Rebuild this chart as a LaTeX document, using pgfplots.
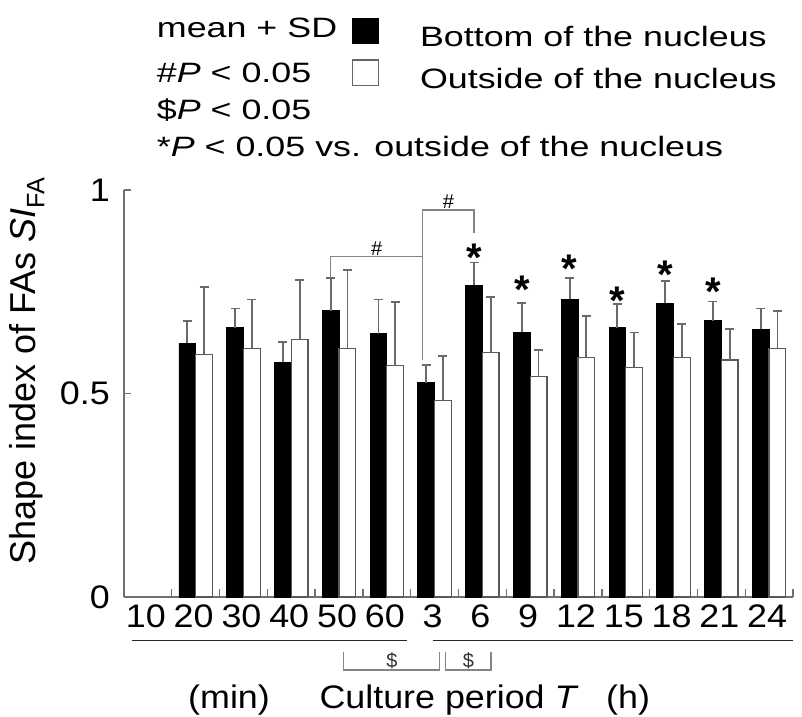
\documentclass[border=0pt]{standalone}
\usepackage{fontspec}
\setmainfont{Liberation Sans}
\newfontfamily\legfont[FakeStretch=1.28]{Liberation Sans}
\newfontfamily\tickfont[FakeStretch=1.1]{Liberation Sans}
\usepackage{pgfplots}
\usepackage{pgfplotstable}
\pgfplotsset{compat=1.18}

\definecolor{axisgray}{HTML}{707070}
\definecolor{errgray}{HTML}{6A6A6A}
\definecolor{brgray}{HTML}{858585}

\newcommand\legtext{\legfont\fontsize{28}{32}\selectfont}
\newcommand\ticktext{\tickfont\fontsize{32.6}{36}\selectfont}

% index, bottom-of-nucleus mean/SD, outside-of-nucleus mean/SD
% 1-5: 20-60 min, 6-13: 3-24 h (10 min has no data)
\pgfplotstableread{
x  bot   botsd  out   outsd
1  0.623 0.056  0.596 0.166
2  0.662 0.047  0.611 0.120
3  0.577 0.049  0.632 0.147
4  0.703 0.081  0.611 0.193
5  0.647 0.084  0.568 0.157
6  0.527 0.044  0.482 0.110
7  0.766 0.056  0.600 0.137
8  0.650 0.072  0.541 0.065
9  0.731 0.053  0.589 0.101
10 0.662 0.058  0.564 0.086
11 0.722 0.054  0.589 0.081
12 0.679 0.047  0.582 0.076
13 0.658 0.051  0.611 0.091
}\shapedata

\pgfplotsset{
  sqlegend/.style={legend image code/.code={
    \draw[##1] (0pt,0pt) rectangle (25.6pt,25.7pt);}},
  sdbars/.style={
    error bars/.cd, y dir=plus, y explicit,
    error bar style={errgray, line width=1.8pt},
    error mark options={errgray, line width=1.8pt, mark size=4.5pt, rotate=90}},
}

\begin{document}
\begin{tikzpicture}[x=1pt,y=1pt]
\useasboundingbox (0,0) rectangle (802,716);
\begin{axis}[
  at={(124pt,119pt)}, anchor=south west,
  scale only axis, width=669pt, height=407pt,
  xmin=-0.5, xmax=13.5, ymin=0, ymax=1,
  clip=false,
  axis x line*=bottom, axis y line*=left,
  axis line style={axisgray, line width=1.3pt, -},
  tick align=inside,
  tick style={axisgray, line width=1.3pt},
  major tick length=7pt, minor tick length=8pt,
  xtick={0,...,13},
  xticklabels={10,20,30,40,50,60,3,6,9,12,15,18,21,24},
  major x tick style={draw=none},
  minor xtick={0.5,1.5,...,13.5},
  ytick={0,0.5,1},
  yticklabels={0,0.5,1},
  tick label style={font=\ticktext, text=black},
  xticklabel style={inner sep=0pt, anchor=north, yshift=-8pt, xshift=-2pt},
  yticklabel style={inner sep=0pt, anchor=east, xshift=-14pt},
  ylabel={Shape index of FAs \textit{SI}\textsubscript{FA}},
  ylabel style={at={(axis description cs:-0.145,0.555)}, anchor=center,
    font=\fontsize{36}{40}\selectfont},
  xlabel={Culture period \textit{T}},
  xlabel style={at={(axis description cs:0.486,-0.2727)}, anchor=base,
    font=\ticktext},
  legend style={at={(axis description cs:0.3404,1.4268)}, anchor=north west,
    draw=none, fill=none, inner sep=0pt, font=\legtext,
    row sep=0pt,
    nodes={inner sep=0pt, text height=30pt, text depth=12pt},
    /tikz/every even column/.append style={column sep=0pt},
    /tikz/every odd column/.append style={column sep=41pt, yshift=-6pt}},
  legend cell align=left,
]

% bars with upward SD whiskers, each drawn at its own bar centre
\addplot[ybar, bar width=0.35, bar shift=0pt, fill=black, draw=black,
  line width=0.8pt, forget plot, sdbars]
  table[x expr=\thisrow{x}-0.175, y=bot, y error=botsd] {\shapedata};
\addplot[ybar, bar width=0.35, bar shift=0pt, fill=white, draw=black!65,
  line width=1.3pt, forget plot, sdbars]
  table[x expr=\thisrow{x}+0.175, y=out, y error=outsd] {\shapedata};

\addlegendimage{sqlegend, fill=black, draw=black}
\addlegendentry{Bottom of the nucleus}
\addlegendimage{sqlegend, fill=white, draw=black!60, line width=1.5pt}
\addlegendentry{Outside of the nucleus}

% significance vs. outside of the nucleus
\begin{scope}[every node/.style={anchor=base, inner sep=0pt,
    font=\fontsize{40}{40}\selectfont\bfseries}]
  \node at (axis cs:6.825,0.800) {*};
  \node at (axis cs:7.825,0.722) {*};
  \node at (axis cs:8.825,0.773) {*};
  \node at (axis cs:9.825,0.693) {*};
  \node at (axis cs:10.825,0.757) {*};
  \node at (axis cs:11.825,0.716) {*};
\end{scope}

% # brackets between time points
\draw[brgray, line width=1.2pt]
  (axis cs:3.825,0.786) -- (axis cs:3.825,0.836) -- (axis cs:5.75,0.836)
  -- (axis cs:5.75,0.582);
\draw[brgray, line width=1.2pt]
  (axis cs:5.75,0.836) -- (axis cs:5.75,0.951) -- (axis cs:6.825,0.951)
  -- (axis cs:6.825,0.894);
\node[anchor=south, inner sep=1.5pt, font=\fontsize{20}{22}\selectfont]
  at (axis cs:4.79,0.836) {\#};
\node[anchor=south, inner sep=1.5pt, font=\fontsize{20}{22}\selectfont]
  at (axis cs:6.29,0.951) {\#};

% min / h groupings under the tick labels
\draw[black!85, line width=1.4pt] (axis cs:-0.339,-0.1074) -- (axis cs:5.427,-0.1074);
\draw[black!85, line width=1.4pt] (axis cs:5.958,-0.1074) -- (axis cs:13.49,-0.1074);

% $ brackets
\draw[brgray, line width=1.2pt]
  (axis cs:4.10,-0.1344) -- (axis cs:4.10,-0.1794) -- (axis cs:6.11,-0.1794)
  -- (axis cs:6.11,-0.1344);
\draw[brgray, line width=1.2pt]
  (axis cs:6.236,-0.1344) -- (axis cs:6.236,-0.1794) -- (axis cs:7.18,-0.1794)
  -- (axis cs:7.18,-0.1344);
\node[font=\fontsize{20}{22}\selectfont, text=black!80]
  at (axis cs:5.105,-0.1565) {\$};
\node[font=\fontsize{20}{22}\selectfont, text=black!80]
  at (axis cs:6.708,-0.1565) {\$};

\node[anchor=base, font=\ticktext] at (axis description cs:0.157,-0.2727) {(min)};
\node[anchor=base, font=\ticktext] at (axis description cs:0.7534,-0.2727) {(h)};
\end{axis}

% notes on statistics
\begin{scope}[every node/.style={anchor=base west, inner sep=0pt, font=\legtext}]
  \node at (156.7,678.7) {mean + SD};
  \node at (156.7,633.3) {\#\textit{P} < 0.05};
  \node at (156.7,596.0) {\$\textit{P} < 0.05};
  \node at (156.7,559.0) {*\textit{P} < 0.05 vs. outside of the nucleus};
\end{scope}
\end{tikzpicture}
\end{document}
